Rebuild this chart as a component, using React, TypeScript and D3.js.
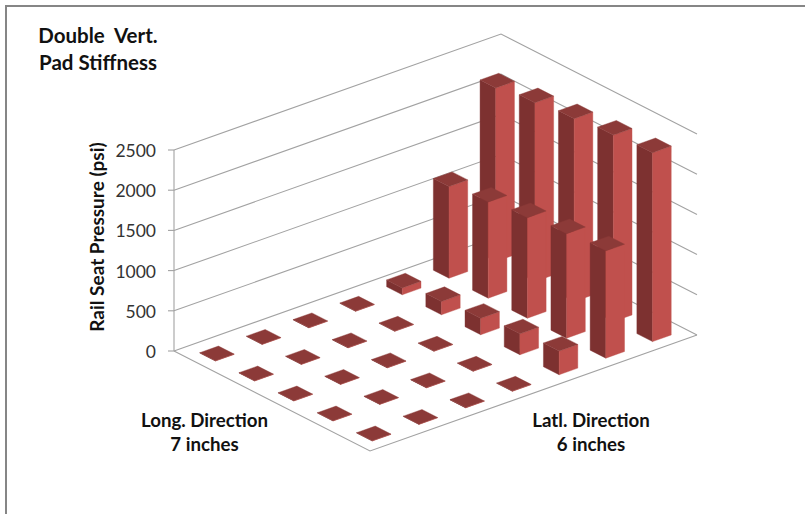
import React from "react";
import * as d3 from "d3";

// Rail seat pressure (psi) on a 5 x 7 grid of seat positions.
// Each list is one longitudinal row, read along the lateral direction.
const longRow1 = [4, 4, 4, 4, 85, 1140, 2160];
const longRow2 = [4, 4, 4, 4, 165, 1195, 2225];
const longRow3 = [4, 4, 4, 4, 205, 1250, 2275];
const longRow4 = [4, 4, 4, 4, 260, 1300, 2320];
const longRow5 = [4, 4, 4, 4, 295, 1335, 2350];
const pressure = [longRow1, longRow2, longRow3, longRow4, longRow5];

const pressureTicks = [0, 500, 1000, 1500, 2000, 2500];
const longPositions = d3.range(5);
const latPositions = d3.range(7);

const titleLines = ["Double  Vert.", "Pad Stiffness"];
const valueAxisTitle = "Rail Seat Pressure (psi)";
const longLabel = ["Long. Direction", "7 inches"];
const latLabel = ["Latl. Direction", "6 inches"];

// Oblique projection of the floor: its left corner and two edge vectors on screen.
const origin: [number, number] = [174, 351];
const longEdge: [number, number] = [196, 100];
const latEdge: [number, number] = [327, -116];

const heightScale = d3.scaleLinear().domain([0, 2500]).range([0, 201]);
const longScale = d3.scaleBand<number>().domain(longPositions).range([0, 1]).paddingInner(0.6).paddingOuter(0.3);
const latScale = d3.scaleBand<number>().domain(latPositions).range([0, 1]).paddingInner(0.6).paddingOuter(0.3);

type Pt = [number, number];
const project = (a: number, b: number, h = 0): Pt => [
  origin[0] + a * longEdge[0] + b * latEdge[0],
  origin[1] + a * longEdge[1] + b * latEdge[1] - h + 1,
];
const wallPoint = (a: number, b: number, h: number): Pt => {
  const p = project(a, b, h);
  return [p[0], p[1] - 1];
};

const outline = (pts: Pt[]) => d3.line()(pts) + "Z";

const GRID = "#a2a2a2";
const FACE_LEFT = "#7d3130";
const FACE_RIGHT = "#c0504d";
const FACE_TOP = "#8c3a38";
const FONT = "Lato, 'Open Sans', sans-serif";

function Column({ row, col, value }: { row: number; col: number; value: number }) {
  const a0 = longScale(row)!;
  const a1 = a0 + longScale.bandwidth();
  const b0 = latScale(col)!;
  const b1 = b0 + latScale.bandwidth();
  const h = heightScale(value);
  const left0 = project(a0, b0);
  const front0 = project(a1, b0);
  const right0 = project(a1, b1);
  const left1 = project(a0, b0, h);
  const front1 = project(a1, b0, h);
  const right1 = project(a1, b1, h);
  const back1 = project(a0, b1, h);
  return (
    <g>
      <path d={outline([left0, front0, front1, left1])} fill={FACE_LEFT} stroke={FACE_LEFT} strokeWidth={0.4} />
      <path d={outline([front0, right0, right1, front1])} fill={FACE_RIGHT} stroke={FACE_RIGHT} strokeWidth={0.4} />
      <path d={outline([left1, front1, right1, back1])} fill={FACE_TOP} stroke={FACE_TOP} strokeWidth={0.4} />
    </g>
  );
}

export default function App() {
  // Columns are painted from the far corner of the floor towards the viewer.
  const paintOrder = longPositions.flatMap((row) =>
    [...latPositions].reverse().map((col) => ({ row, col, value: pressure[row][col] }))
  );
  return (
    <svg
      width={805}
      height={514}
      style={{ position: "absolute", left: 0, top: 0, background: "#fff" }}
      fontFamily={FONT}
    >
      <path d="M6,514V6H805" fill="none" stroke="#868686" strokeWidth={2} />

      {pressureTicks.map((t) => {
        const h = heightScale(t);
        const l = wallPoint(0, 0, h);
        const k = wallPoint(0, 1, h);
        const r = wallPoint(1, 1, h);
        return (
          <g key={t}>
            <path d={d3.line()([l, k, r])!} fill="none" stroke={GRID} strokeWidth={1.1} />
            <line x1={l[0] - 6} x2={l[0]} y1={l[1]} y2={l[1]} stroke={GRID} strokeWidth={1.1} />
            <text x={156} y={l[1] + 7} textAnchor="end" fontSize={17.5} fill="#333">
              {t}
            </text>
          </g>
        );
      })}
      <line
        x1={origin[0]}
        x2={origin[0]}
        y1={origin[1]}
        y2={origin[1] - heightScale(2500)}
        stroke={GRID}
        strokeWidth={1.1}
      />
      <path
        d={d3.line()([wallPoint(0, 0, 0), wallPoint(1, 0, 0), wallPoint(1, 1, 0)])!}
        fill="none"
        stroke={GRID}
        strokeWidth={1.1}
      />

      {paintOrder.map((d) => (
        <Column key={`${d.row}-${d.col}`} {...d} />
      ))}

      <g fontWeight={700} fill="#111" textAnchor="middle">
        {titleLines.map((s, i) => (
          <text key={s} x={98} y={43 + i * 27} fontSize={20.5} style={{ whiteSpace: "pre" }}>
            {s}
          </text>
        ))}
        {longLabel.map((s, i) => (
          <text key={s} x={204.5} y={427 + i * 24} fontSize={18.7}>
            {s}
          </text>
        ))}
        {latLabel.map((s, i) => (
          <text key={s} x={591} y={427 + i * 24} fontSize={18.7}>
            {s}
          </text>
        ))}
        <text transform="translate(104,237) rotate(-90)" fontSize={19}>
          {valueAxisTitle}
        </text>
      </g>
    </svg>
  );
}
